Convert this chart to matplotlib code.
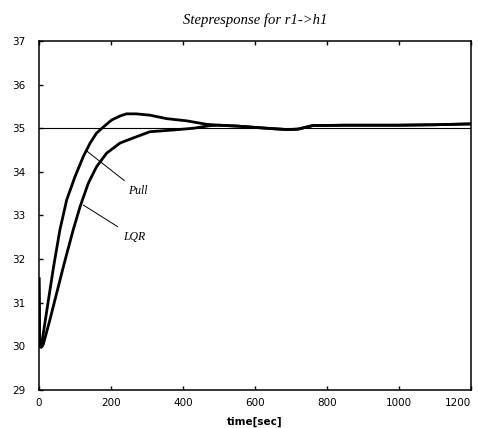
import numpy as np
import matplotlib
matplotlib.use("Agg")
import matplotlib.pyplot as plt

# Step response r1 -> h1 for two controllers
t_pull = [0, 2, 6, 12, 25, 40, 58, 77, 100, 123, 142, 160, 179, 202, 225, 243, 270, 308, 355, 410, 466, 500,
          550, 600, 650, 690, 720, 760, 850, 1000, 1100, 1200]
v_pull = [31.55, 30.0, 29.98, 30.3, 31.0, 31.8, 32.67, 33.36, 33.89, 34.35, 34.66, 34.89, 35.03, 35.19, 35.28, 35.33, 35.33, 35.3, 35.22, 35.17, 35.09, 35.07,
          35.05, 35.02, 34.99, 34.97, 34.98, 35.06, 35.07, 35.07, 35.08, 35.1]

t_lqr = [0, 2, 6, 12, 30, 50, 70, 95, 114, 137, 160, 188, 225, 253, 308, 373, 429, 475, 500,
         550, 600, 650, 690, 720, 760, 850, 1000, 1100, 1200]
v_lqr = [31.55, 30.0, 29.98, 30.05, 30.6, 31.25, 31.9, 32.67, 33.2, 33.74, 34.12, 34.43, 34.66, 34.75, 34.92, 34.96, 35.0, 35.06, 35.07,
         35.05, 35.02, 34.99, 34.97, 34.98, 35.06, 35.07, 35.07, 35.08, 35.1]

setpoint = 35.0
x_ticks = [0, 200, 400, 600, 800, 1000, 1200]
y_ticks = [29, 30, 31, 32, 33, 34, 35, 36, 37]

fig = plt.figure(figsize=(4.78, 4.28), dpi=100)
ax = fig.add_axes([0.0816, 0.0888, 0.9034, 0.8154])

ax.axhline(setpoint, color="black", lw=0.8)
ax.plot(t_pull, v_pull, color="black", lw=2.0, solid_joinstyle="round")
ax.plot(t_lqr, v_lqr, color="black", lw=2.0, solid_joinstyle="round")

ax.set_xlim(0, 1200)
ax.set_ylim(29, 37)
ax.set_xticks(x_ticks)
ax.set_yticks(y_ticks)
ax.tick_params(direction="in", top=True, right=False, length=3, width=1,
               labelsize=7.5)
ax.tick_params(axis="x", pad=6)
ax.tick_params(axis="y", pad=10)
ax.get_xticklabels()[-1].set_horizontalalignment("right")
for s in ax.spines.values():
    s.set_linewidth(1.1)

ax.set_xlabel("time[sec]", fontsize=7.5, fontweight="bold", labelpad=6)
ax.set_title("Stepresponse for r1->h1", fontsize=10.5, family="Liberation Serif",
             style="italic", pad=12)

# curve labels with leader lines
ax.annotate("Pull", xy=(134, 34.47), xytext=(247, 33.56), fontsize=8.5,
            family="Liberation Serif", style="italic", va="center",
            arrowprops=dict(arrowstyle="-", color="black", lw=0.7, shrinkB=0, shrinkA=2))
ax.annotate("LQR", xy=(123, 33.24), xytext=(233, 32.51), fontsize=8.5,
            family="Liberation Serif", style="italic", va="center",
            arrowprops=dict(arrowstyle="-", color="black", lw=0.7, shrinkB=0, shrinkA=2))

fig.savefig("out.png", dpi=100)
